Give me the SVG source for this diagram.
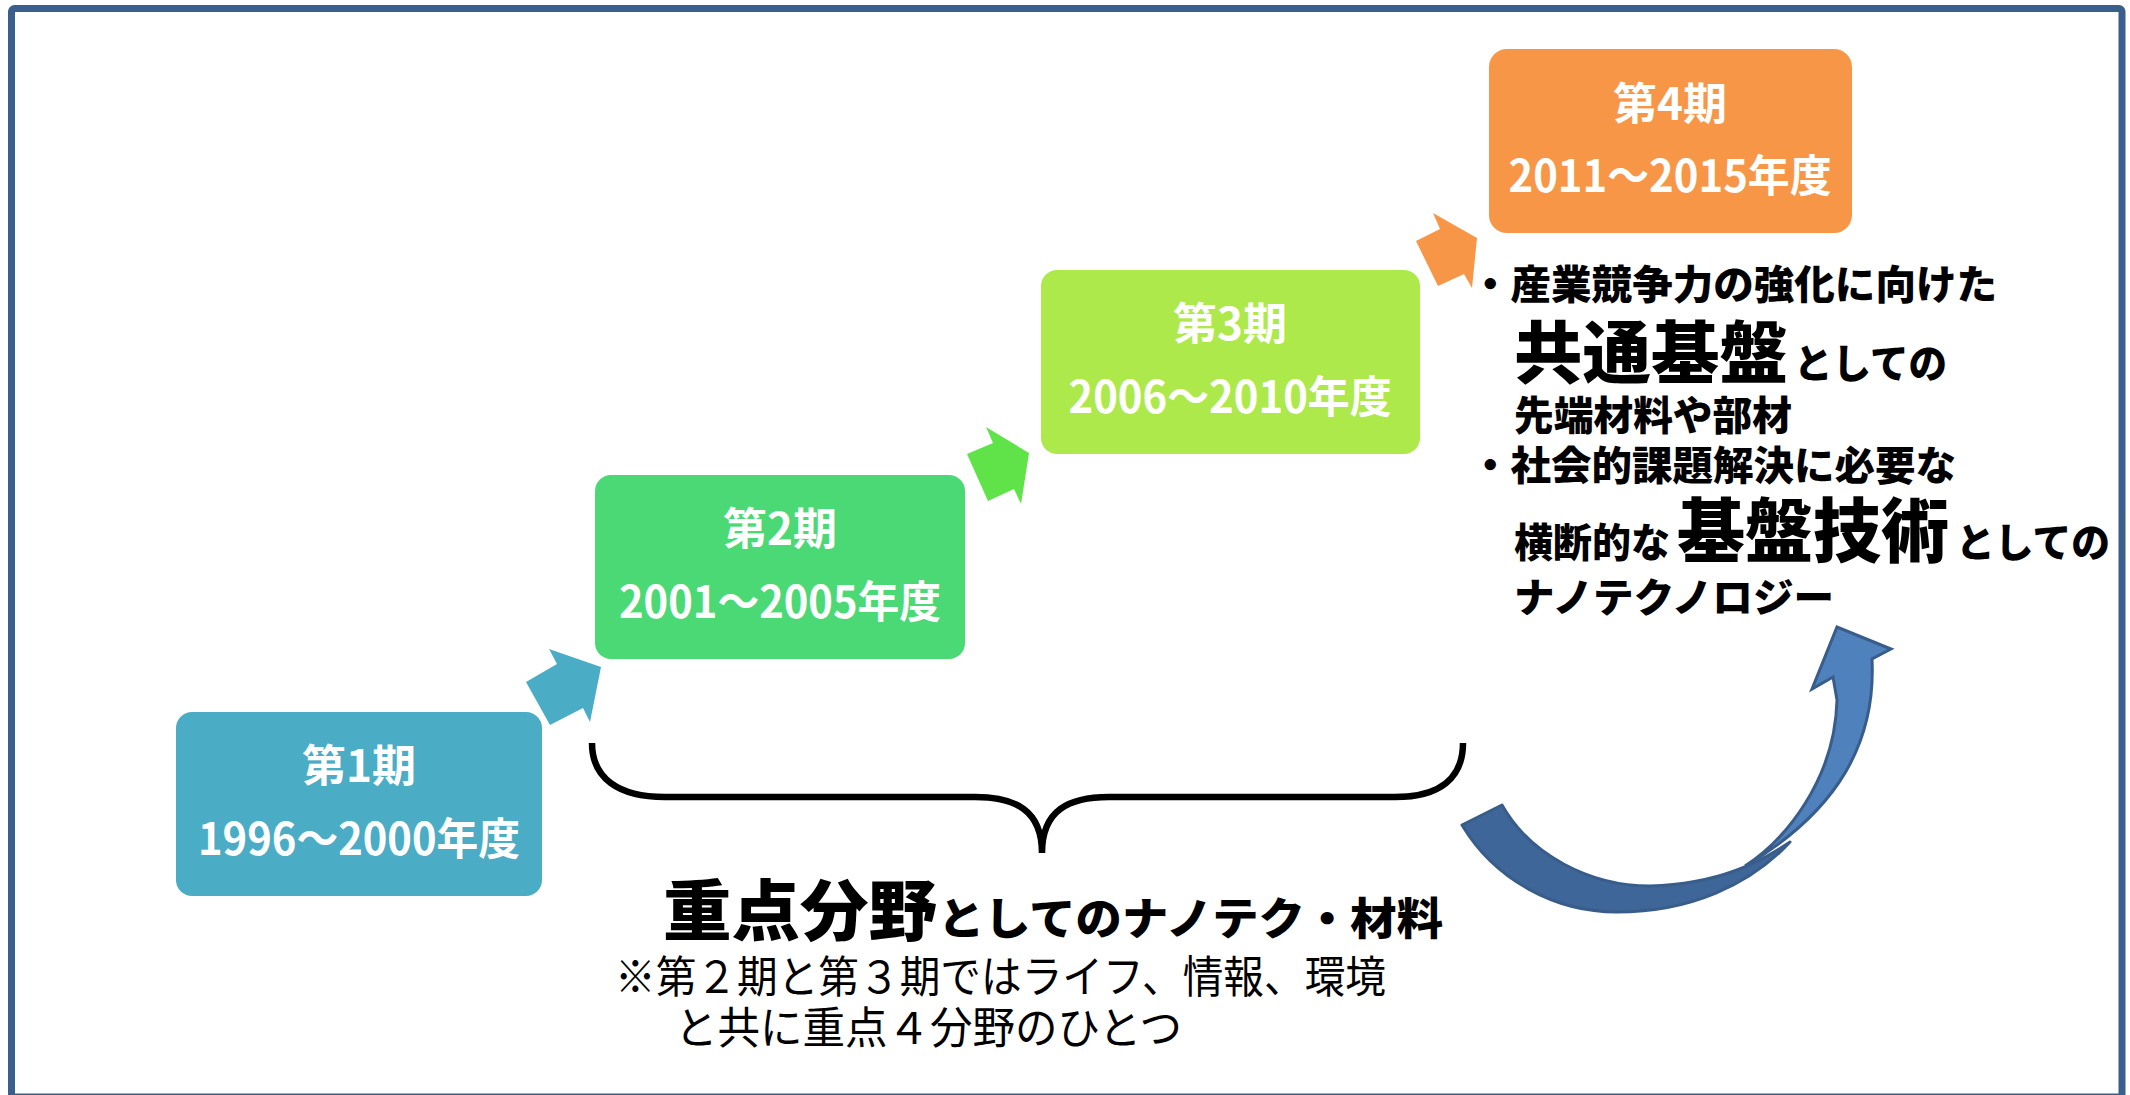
<svg xmlns="http://www.w3.org/2000/svg" width="2130" height="1095" viewBox="0 0 2130 1095">
  <style>
    .box-title { font-family: "Noto Sans CJK JP", "Noto Sans", sans-serif; font-weight: 700; font-size: 44px; fill: #ffffff; text-anchor: middle; }
    .heavy { font-family: "Noto Sans CJK JP", "Noto Sans", sans-serif; font-weight: 900; fill: #000000; }
    .note { font-family: "Noto Sans CJK JP", "Noto Sans", sans-serif; font-weight: 400; font-size: 44px; fill: #000000; }
    .curve-dark { fill: #3F6698; stroke: #385D8A; stroke-width: 3; stroke-linejoin: round; }
    .curve-light { fill: #4F81BD; stroke: #385D8A; stroke-width: 3; stroke-linejoin: miter; }
  </style>
  <rect x="0" y="0" width="2130" height="1095" fill="#ffffff"/>
  <rect id="frame" x="11.5" y="8.5" width="2110.5" height="1088.5" rx="3" fill="#ffffff" stroke="#3A5F8D" stroke-width="7"/>

  <g id="connectors">
    <polygon points="526,682 557,664 549,649 601,667 590,722 583,708 550,725" fill="#4BACC6"/>
    <polygon points="967,454 993,443 986,427 1029,453 1021,504 1014,489 988,501" fill="#5FE348"/>
    <polygon points="1416,241 1440,229 1433,213 1477,238 1472,288 1464,274 1438,286" fill="#F79646"/>
    <g id="curved-arrow">
      <path class="curve-dark" d="M1462,825 C1495,880 1555,912 1617,912 C1690,912 1750,885 1790,842 C1760,862 1720,884 1650,886 C1590,886 1530,855 1502,805 Z"/>
      <path class="curve-light" d="M1745,866 C1785,840 1835,780 1837,700 L1833,677 L1812,689 L1837,627 L1891,649 L1872,659 C1876,740 1840,810 1745,866 Z"/>
    </g>
  </g>

  <g id="period1">
    <rect x="176" y="712" width="366" height="184" rx="16" fill="#4BACC6"/>
    <text class="box-title" x="359" y="782">第1期</text>
    <text class="box-title" x="359" y="855" textLength="322" lengthAdjust="spacingAndGlyphs">1996～2000年度</text>
  </g>
  <g id="period2">
    <rect x="595" y="475" width="370" height="184" rx="16" fill="#4AD975"/>
    <text class="box-title" x="780" y="545">第2期</text>
    <text class="box-title" x="780" y="618" textLength="322" lengthAdjust="spacingAndGlyphs">2001～2005年度</text>
  </g>
  <g id="period3">
    <rect x="1041" y="270" width="379" height="184" rx="16" fill="#AEE94B"/>
    <text class="box-title" x="1230" y="340">第3期</text>
    <text class="box-title" x="1230" y="413" textLength="323" lengthAdjust="spacingAndGlyphs">2006～2010年度</text>
  </g>
  <g id="period4">
    <rect x="1489" y="49" width="363" height="184" rx="18" fill="#F79646"/>
    <text class="box-title" x="1670" y="120">第4期</text>
    <text class="box-title" x="1670" y="192" textLength="323" lengthAdjust="spacingAndGlyphs">2011～2015年度</text>
  </g>

  <g id="brace">
    <path d="M592,743 C592,778 618,797 665,797 L975,797 C1015,797 1042,810 1042,853 C1042,810 1069,797 1109,797 L1395,797 C1440,797 1463,778 1463,743" fill="none" stroke="#000000" stroke-width="6.5" stroke-linecap="butt"/>
  </g>

  <g id="period4-description">
    <text class="heavy" x="1470" y="299" font-size="40" textLength="527" lengthAdjust="spacingAndGlyphs">・産業競争力の強化に向けた</text>
    <text class="heavy" y="378"><tspan x="1514" font-size="68" textLength="274" lengthAdjust="spacingAndGlyphs">共通基盤</tspan><tspan x="1794" font-size="40" textLength="153" lengthAdjust="spacingAndGlyphs">としての</tspan></text>
    <text class="heavy" x="1514" y="430" font-size="40" textLength="278" lengthAdjust="spacingAndGlyphs">先端材料や部材</text>
    <text class="heavy" x="1470" y="480" font-size="40" textLength="486" lengthAdjust="spacingAndGlyphs">・社会的課題解決に必要な</text>
    <text class="heavy" y="557"><tspan x="1514" font-size="40" textLength="156" lengthAdjust="spacingAndGlyphs">横断的な</tspan><tspan x="1677" font-size="70" textLength="272" lengthAdjust="spacingAndGlyphs">基盤技術</tspan><tspan x="1956" font-size="40" textLength="154" lengthAdjust="spacingAndGlyphs">としての</tspan></text>
    <text class="heavy" x="1514" y="612" font-size="40" textLength="320" lengthAdjust="spacingAndGlyphs">ナノテクノロジー</text>
  </g>

  <g id="focus-label">
    <text class="heavy" y="935"><tspan x="663" font-size="66" textLength="274" lengthAdjust="spacingAndGlyphs">重点分野</tspan><tspan x="938" font-size="44" textLength="505" lengthAdjust="spacingAndGlyphs">としてのナノテク・材料</tspan></text>
    <text class="note" x="615" y="993" textLength="771" lengthAdjust="spacingAndGlyphs">※第２期と第３期ではライフ、情報、環境</text>
    <text class="note" x="675" y="1044" textLength="507" lengthAdjust="spacingAndGlyphs">と共に重点４分野のひとつ</text>
  </g>
</svg>
